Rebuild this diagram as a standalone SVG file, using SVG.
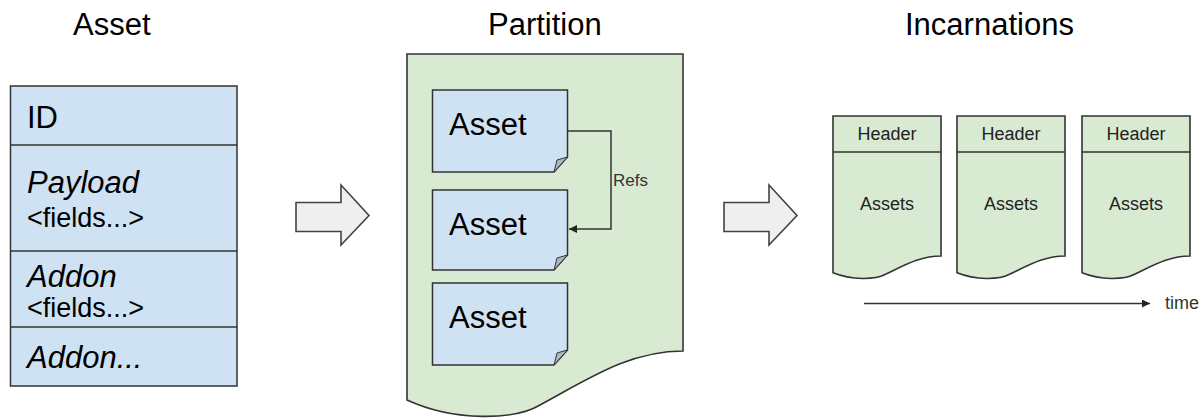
<svg xmlns="http://www.w3.org/2000/svg" width="1204" height="419" viewBox="0 0 1204 419">
  <style>
    text { font-family: "Liberation Sans", Arial, sans-serif; fill: #000; }
    .title { font-size: 31px; }
    .big { font-size: 31px; }
    .it { font-style: italic; }
    .small { font-size: 27px; }
    .lbl { font-size: 17px; fill: #333; }
    .inc { font-size: 18px; fill: #222; text-anchor: middle; }
    .blue { fill: #cfe2f3; stroke: #333; stroke-width: 1.5; }
    .green { fill: #d9ead3; stroke: #333; stroke-width: 1.6; }
    .fold { fill: #a9b8c6; stroke: #333; stroke-width: 1; }
    .div { stroke: #333; stroke-width: 1.5; fill: none; }
    .block { fill: #efefef; stroke: #434343; stroke-width: 1.6; stroke-linejoin: miter; }
    .conn { fill: none; stroke: #333; stroke-width: 1.5; }
  </style>
  <defs>
    <marker id="head" markerUnits="userSpaceOnUse" markerWidth="10" markerHeight="9" refX="8" refY="4" orient="auto">
      <path d="M0,0 L8,4 L0,8 Z" fill="#222"/>
    </marker>
    <!-- single incarnation document, local coordinates -->
    <path id="incDoc" d="M0,0 H108 V140 C87.2,140 71.6,149.3 52,158.5 C42.2,163.7 18.8,164.4 0,156.8 Z"/>
  </defs>

  <!-- column headings -->
  <g id="titles">
    <text class="title" x="73" y="35">Asset</text>
    <text class="title" x="488" y="35">Partition</text>
    <text class="title" x="905" y="35">Incarnations</text>
  </g>

  <!-- asset record layout -->
  <g id="asset-table">
    <rect class="blue" x="10.5" y="86" width="226.5" height="300"/>
    <line class="div" x1="10.5" y1="145" x2="237" y2="145"/>
    <line class="div" x1="10.5" y1="251" x2="237" y2="251"/>
    <line class="div" x1="10.5" y1="327" x2="237" y2="327"/>
    <text class="big" x="27" y="128">ID</text>
    <text class="big it" x="27" y="193">Payload</text>
    <text class="small" x="27" y="227">&lt;fields...&gt;</text>
    <text class="big it" x="27" y="287">Addon</text>
    <text class="small" x="27" y="317">&lt;fields...&gt;</text>
    <text class="big it" x="27" y="368">Addon...</text>
  </g>

  <!-- block arrows between stages -->
  <g id="arrow-1">
    <path class="block" d="M296,202.5 H341 V185 L369,215.5 L341,245 V231.5 H296 Z"/>
  </g>
  <g id="arrow-2">
    <path class="block" d="M724,202.5 H769 V185 L797,215.5 L769,245 V231.5 H724 Z"/>
  </g>

  <!-- partition document -->
  <g id="partition">
    <path class="green" d="M407,54 H683 V351 C630,351 590,378 540,405 C515,420 455,422 407,400 Z"/>
  </g>

  <g id="partition-asset-1">
    <path class="blue" d="M432.5,90 H567.5 V157 L554,172 H432.5 Z"/>
    <path class="fold" d="M567.5,157 L554,172 L557,160 Z"/>
    <text class="big" x="449" y="135">Asset</text>
  </g>
  <g id="partition-asset-2">
    <path class="blue" d="M432.5,190 H567.5 V255 L554,270 H432.5 Z"/>
    <path class="fold" d="M567.5,255 L554,270 L557,258 Z"/>
    <text class="big" x="449" y="235">Asset</text>
  </g>
  <g id="partition-asset-3">
    <path class="blue" d="M432.5,283 H567.5 V350 L554,365 H432.5 Z"/>
    <path class="fold" d="M567.5,350 L554,365 L557,353 Z"/>
    <text class="big" x="449" y="328">Asset</text>
  </g>

  <!-- incarnations over time -->
  <g id="incarnation-1" transform="translate(833,116)">
    <use href="#incDoc" class="green"/>
    <line class="div" x1="0" y1="36" x2="108" y2="36"/>
    <text class="inc" x="54" y="24">Header</text>
    <text class="inc" x="54" y="94">Assets</text>
  </g>
  <g id="incarnation-2" transform="translate(957,116)">
    <use href="#incDoc" class="green"/>
    <line class="div" x1="0" y1="36" x2="108" y2="36"/>
    <text class="inc" x="54" y="24">Header</text>
    <text class="inc" x="54" y="94">Assets</text>
  </g>
  <g id="incarnation-3" transform="translate(1082,116)">
    <use href="#incDoc" class="green"/>
    <line class="div" x1="0" y1="36" x2="108" y2="36"/>
    <text class="inc" x="54" y="24">Header</text>
    <text class="inc" x="54" y="94">Assets</text>
  </g>

  <!-- connectors -->
  <g id="connectors">
    <path class="conn" d="M567.5,131 H611 V229 H569" marker-end="url(#head)"/>
    <text class="lbl" x="613" y="186">Refs</text>
    <line class="conn" x1="864" y1="303.5" x2="1150" y2="303.5" marker-end="url(#head)"/>
    <text class="lbl" x="1165" y="309" style="font-size:18px">time</text>
  </g>
</svg>
